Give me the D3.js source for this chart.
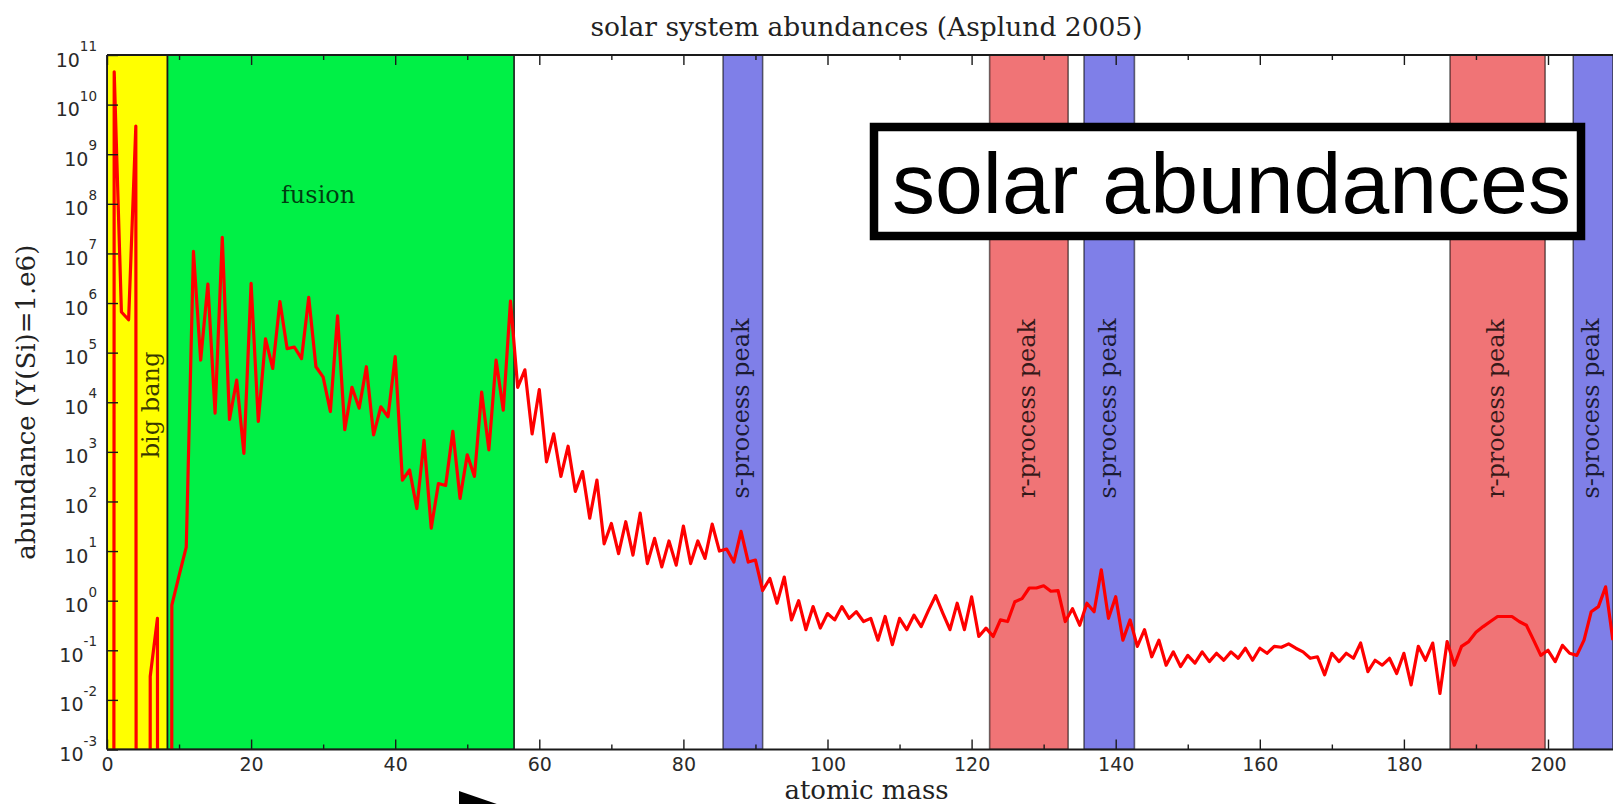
<!DOCTYPE html>
<html>
<head>
<meta charset="utf-8">
<script src="https://cdn.jsdelivr.net/npm/d3@7"></script>
<style>
  html, body { margin: 0; padding: 0; background: #ffffff; }
  svg { display: block; }
</style>
</head>
<body>
<svg id="chart" width="1613" height="804"></svg>
<script>
// Solar system abundances per mass number A (index = A), normalised to Y(Si) = 1e6.
// Mass numbers with no stable nucleus (A = 0, 5, 8) are zero.
const abundance = [
  0, 4.6e10, 6.6e5, 4.6e5, 3.7e9, 0, 0.03, 0.44, 0, 0.81,
  3.2, 12, 1.1e7, 7.1e4, 2.4e6, 6.0e3, 2.1e7, 4.5e3, 2.8e4, 930,
  2.5e6, 4.1e3, 1.9e5, 4.8e4, 1.07e6, 1.2e5, 1.3e5, 7.6e4, 1.3e6, 5.2e4,
  3.2e4, 6.5e3, 5.5e5, 2.8e3, 2.0e4, 7.6e3, 5.2e4, 2.2e3, 8.1e3, 5.1e3,
  8.3e4, 270, 430, 72, 1.7e3, 29, 230, 210, 2.6e3, 115,
  870, 320, 1.6e4, 1.1e3, 7.1e4, 6.9e3, 1.1e6, 2.0e4, 4.5e4, 2.3e3,
  1.8e4, 630, 2.3e3, 320, 1.3e3, 160, 400, 46, 270, 14,
  36, 8.9, 39, 8.3, 58, 5.6, 18, 4.8, 16, 5.2,
  32, 5.6, 16, 7.1, 35, 10, 11, 6.0, 25, 6.0,
  6.6, 1.6, 2.8, 0.89, 3.0, 0.41, 1.0, 0.26, 0.76, 0.28,
  0.55, 0.41, 0.76, 0.44, 0.60, 0.38, 0.44, 0.16, 0.48, 0.13,
  0.44, 0.26, 0.51, 0.30, 0.63, 1.26, 0.56, 0.26, 0.89, 0.26,
  1.2, 0.19, 0.28, 0.19, 0.41, 0.38, 0.95, 1.1, 1.8, 1.8,
  2.0, 1.55, 1.6, 0.38, 0.69, 0.32, 0.89, 0.60, 4.2, 0.44,
  1.2, 0.16, 0.41, 0.12, 0.26, 0.074, 0.16, 0.05, 0.093, 0.047,
  0.079, 0.055, 0.093, 0.059, 0.087, 0.063, 0.093, 0.069, 0.11, 0.063,
  0.11, 0.087, 0.12, 0.115, 0.135, 0.11, 0.093, 0.069, 0.074, 0.032,
  0.087, 0.059, 0.087, 0.069, 0.14, 0.037, 0.063, 0.05, 0.069, 0.034,
  0.087, 0.02, 0.12, 0.063, 0.14, 0.0135, 0.15, 0.05, 0.12, 0.15,
  0.23, 0.30, 0.38, 0.48, 0.48, 0.48, 0.38, 0.32, 0.16, 0.079,
  0.10, 0.059, 0.126, 0.087, 0.079, 0.16, 0.60, 0.76, 1.9, 0.16
];
const massNumber = abundance.map((_, i) => i);

// Shaded nucleosynthesis regions (mass-number ranges)
const bandLabel = ["big bang", "fusion", "s-process peak", "r-process peak", "s-process peak", "r-process peak", "s-process peak"];
const bandKind  = ["bigbang", "fusion", "s", "r", "s", "r", "s"];
const bandStart = [0, 8.4, 85.5, 122.5, 135.6, 186.4, 203.5];
const bandEnd   = [8.4, 56.5, 91.0, 133.4, 142.6, 199.6, 209];

// Axis ticks
const xMajorTicks = [0, 20, 40, 60, 80, 100, 120, 140, 160, 180, 200];
const xMinorTicks = [10, 30, 50, 70, 90, 110, 130, 150, 170, 190, 210];
const yExponents  = [11, 10, 9, 8, 7, 6, 5, 4, 3, 2, 1, 0, -1, -2, -3];

const titleText  = "solar system abundances (Asplund 2005)";
const xLabelText = "atomic mass";
const yLabelText = "abundance (Y(Si)=1.e6)";
const stampText  = "solar abundances";

// ---- layout ----
const plot = { left: 107, top: 55, bottom: 749.5, pxPerUnit: 7.205 };
const xMax = 210;

const svg = d3.select("#chart");
const x = d3.scaleLinear().domain([0, xMax]).range([plot.left, plot.left + xMax * plot.pxPerUnit]);
const y = d3.scaleLog().domain([1e-3, 1e11]).range([plot.bottom, plot.top]);

const bandStyle = {
  bigbang: { fill: "#ffff00", edge: "#1a1a1a", edgeOpacity: 1 },
  fusion:  { fill: "#00f046", edge: "#1a1a1a", edgeOpacity: 1 },
  s:       { fill: "#7f7fe8", edge: "#000000", edgeOpacity: 0.55 },
  r:       { fill: "#f07476", edge: "#000000", edgeOpacity: 0.55 }
};

svg.append("defs").append("clipPath").attr("id", "plotClip")
  .append("rect")
  .attr("x", plot.left).attr("y", plot.top)
  .attr("width", x(xMax) - plot.left).attr("height", plot.bottom - plot.top);

// ---- bands ----
const bands = bandLabel.map((label, i) => ({ label, kind: bandKind[i], a0: bandStart[i], a1: bandEnd[i] }));
const bandG = svg.append("g").attr("clip-path", "url(#plotClip)");
bandG.selectAll("rect").data(bands).join("rect")
  .attr("x", d => x(d.a0))
  .attr("y", plot.top)
  .attr("width", d => x(d.a1) - x(d.a0))
  .attr("height", plot.bottom - plot.top)
  .attr("fill", d => bandStyle[d.kind].fill)
  .attr("stroke", d => bandStyle[d.kind].edge)
  .attr("stroke-opacity", d => bandStyle[d.kind].edgeOpacity)
  .attr("stroke-width", 1.6);

// band captions
const captionFont = "'DejaVu Serif', serif";
bandG.selectAll("text.vcap").data(bands.filter(d => d.kind !== "fusion")).join("text")
  .attr("class", "vcap")
  .attr("transform", d => {
    const cx = d.kind === "bigbang" ? x(6.3) : (x(d.a0) + x(d.a1)) / 2;
    const cy = d.kind === "bigbang" ? 405 : 408.5;
    return `translate(${cx + 6.4},${cy}) rotate(-90)`;
  })
  .attr("text-anchor", "middle")
  .attr("font-family", captionFont)
  .attr("font-size", 24)
  .attr("fill", "#000")
  .attr("fill-opacity", 0.78)
  .text(d => d.label);

bandG.append("text")
  .attr("x", x(29.3)).attr("y", 203)
  .attr("text-anchor", "middle")
  .attr("font-family", captionFont)
  .attr("font-size", 24)
  .attr("fill", "#000")
  .attr("fill-opacity", 0.75)
  .text(bands[1].label);

// ---- abundance curve ----
// zero abundances are pushed far below the axis so the line plunges off the plot
const floorValue = 1e-300;
const points = massNumber.map(a => ({ a, v: abundance[a] }));
const line = d3.line()
  .x(d => x(d.a))
  .y(d => y(Math.max(d.v, floorValue)));

svg.append("g").attr("clip-path", "url(#plotClip)")
  .append("path")
  .datum(points)
  .attr("d", line)
  .attr("fill", "none")
  .attr("stroke", "#ff0000")
  .attr("stroke-width", 3.2)
  .attr("stroke-linejoin", "round");

// ---- axes ----
const tickFont = "'DejaVu Sans', sans-serif";
const axisColor = "#1a1a1a";

function styleAxis(g) {
  g.select(".domain").remove();
  g.selectAll(".tick line").attr("stroke", axisColor).attr("stroke-width", 1.4);
  g.selectAll(".tick text").attr("fill", "#2a2a2a").attr("font-family", tickFont).attr("font-size", 19);
}

// bottom: major ticks with labels, minor ticks without
svg.append("g").attr("transform", `translate(0,${plot.bottom})`)
  .call(d3.axisBottom(x).tickValues(xMajorTicks).tickSizeInner(-10).tickSizeOuter(0).tickPadding(8).tickFormat(d3.format("d")))
  .call(styleAxis);
svg.append("g").attr("transform", `translate(0,${plot.bottom})`)
  .call(d3.axisBottom(x).tickValues(xMinorTicks).tickSizeInner(-5).tickSizeOuter(0).tickFormat(""))
  .call(styleAxis);

// top: ticks only
svg.append("g").attr("transform", `translate(0,${plot.top})`)
  .call(d3.axisTop(x).tickValues(xMajorTicks).tickSizeInner(-10).tickSizeOuter(0).tickFormat(""))
  .call(styleAxis);
svg.append("g").attr("transform", `translate(0,${plot.top})`)
  .call(d3.axisTop(x).tickValues(xMinorTicks).tickSizeInner(-5).tickSizeOuter(0).tickFormat(""))
  .call(styleAxis);

// left: decade ticks, labels written as 10 with a raised exponent
const yTickValues = yExponents.map(e => Math.pow(10, e));
svg.append("g").attr("transform", `translate(${plot.left},0)`)
  .call(d3.axisLeft(y).tickValues(yTickValues).tickSizeInner(-11).tickSizeOuter(0).tickFormat(""))
  .call(styleAxis);

const yLab = svg.append("g");
yExponents.forEach((e, i) => {
  const ty = y(yTickValues[i]);
  const t = yLab.append("text")
    .attr("x", plot.left - 10)
    .attr("y", ty + 11.5)
    .attr("text-anchor", "end")
    .attr("font-family", tickFont)
    .attr("font-size", 19)
    .attr("fill", "#2a2a2a");
  t.append("tspan").text("10");
  t.append("tspan").attr("dy", -15.5).attr("font-size", 13.5).text(String(e));
});

// frame (right side lies beyond the visible area)
const frame = svg.append("g").attr("stroke", axisColor).attr("stroke-width", 1.8).attr("fill", "none");
frame.append("line").attr("x1", plot.left).attr("x2", x(xMax)).attr("y1", plot.top).attr("y2", plot.top);
frame.append("line").attr("x1", plot.left).attr("x2", x(xMax)).attr("y1", plot.bottom).attr("y2", plot.bottom);
frame.append("line").attr("x1", plot.left).attr("x2", plot.left).attr("y1", plot.top).attr("y2", plot.bottom);

// ---- titles ----
const serif = "'DejaVu Serif', serif";
const plotMidX = (plot.left + x(xMax)) / 2;
svg.append("text")
  .attr("x", plotMidX + 3).attr("y", 36)
  .attr("text-anchor", "middle")
  .attr("font-family", serif).attr("font-size", 26.5).attr("fill", "#222")
  .text(titleText);

svg.append("text")
  .attr("x", plotMidX + 3).attr("y", 799)
  .attr("text-anchor", "middle")
  .attr("font-family", serif).attr("font-size", 26).attr("fill", "#222")
  .text(xLabelText);

svg.append("text")
  .attr("transform", `translate(35,${(plot.top + plot.bottom) / 2}) rotate(-90)`)
  .attr("text-anchor", "middle")
  .attr("font-family", serif).attr("font-size", 26).attr("fill", "#222")
  .text(yLabelText);

// ---- stamp box ----
const stamp = svg.append("g");
stamp.append("rect")
  .attr("x", 874).attr("y", 127).attr("width", 707).attr("height", 109)
  .attr("fill", "#ffffff").attr("stroke", "#000").attr("stroke-width", 8.5);
stamp.append("text")
  .attr("x", 892).attr("y", 213)
  .attr("font-family", "'Liberation Sans', Arial, sans-serif")
  .attr("font-size", 86)
  .attr("fill", "#000")
  .text(stampText);

// ---- pointer arrow at the bottom edge ----
svg.append("path")
  .attr("d", "M459,791 L520,812 L459,833 Z")
  .attr("fill", "#000");
</script>
</body>
</html>
